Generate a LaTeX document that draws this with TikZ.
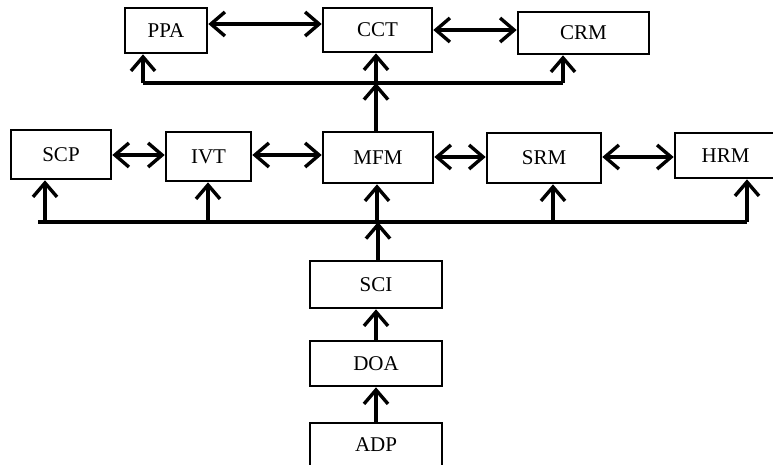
\documentclass[tikz,border=0pt]{standalone}
\usepackage{fontspec}
\setmainfont{Liberation Serif}
\usetikzlibrary{arrows.meta}
\begin{document}
\begin{tikzpicture}[x=1pt,y=1pt,
  blk/.style={draw, line width=2.6pt, rectangle, inner sep=0pt, font=\fontsize{21}{25}\selectfont},
  conn/.style={line width=3.4pt},
  barb/.tip={Straight Barb[length=14pt,width=24pt,line width=3.4pt]},
  tipped/.style={conn, -barb},
  dbl/.style={conn, barb-barb}]
\useasboundingbox (0,0) rectangle (773,-464);
% nodes
\node[blk, minimum width=82pt, minimum height=45pt] (PPA) at (166,-30.5) {PPA};
\node[blk, minimum width=109pt, minimum height=44pt] (CCT) at (377.5,-30) {CCT};
\node[blk, minimum width=131pt, minimum height=42pt] (CRM) at (583.5,-33) {CRM};
\node[blk, minimum width=100pt, minimum height=49pt] (SCP) at (61,-154.5) {SCP};
\node[blk, minimum width=85pt, minimum height=49pt] (IVT) at (208.5,-156.5) {IVT};
\node[blk, minimum width=110pt, minimum height=51pt] (MFM) at (378,-157.5) {MFM};
\node[blk, minimum width=114pt, minimum height=50pt] (SRM) at (544,-158) {SRM};
\node[blk, minimum width=101pt, minimum height=45pt] (HRM) at (725.5,-155.5) {HRM};
\node[blk, minimum width=132pt, minimum height=47pt] (SCI) at (376,-284.5) {SCI};
\node[blk, minimum width=132pt, minimum height=45pt] (DOA) at (376,-363.5) {DOA};
\node[blk, minimum width=132pt, minimum height=44pt] (ADP) at (376,-445) {ADP};
% bus points
\coordinate (tbL) at (143,-83);
\coordinate (tbR) at (563,-83);
\coordinate (tbM) at (376,-83);
\coordinate (bbL) at (38,-222);
\coordinate (bbR) at (747,-222);
\coordinate (bbM) at (378,-222);
% top row double arrows
\draw[dbl] (PPA.east |- 0,-24) -- (CCT.west |- 0,-24);
\draw[dbl] (CCT.east |- 0,-30) -- (CRM.west |- 0,-30);
% top bus
\draw[conn] (tbL) -- (tbR);
\draw[tipped] (tbL) -- (tbL |- PPA.south);
\draw[tipped] (tbR) -- (tbR |- CRM.south);
\draw[tipped] (tbM |- MFM.north) -- (tbM);
\draw[tipped] (tbM) -- (tbM |- CCT.south);
% middle row double arrows
\draw[dbl] (SCP.east |- 0,-155) -- (IVT.west |- 0,-155);
\draw[dbl] (IVT.east |- 0,-155) -- (MFM.west |- 0,-155);
\draw[dbl] (MFM.east |- 0,-157) -- (SRM.west |- 0,-157);
\draw[dbl] (SRM.east |- 0,-157) -- (HRM.west |- 0,-157);
% bottom bus
\draw[conn] (bbL) -- (bbR);
\draw[tipped] (45,-222) -- (45,-222 |- SCP.south);
\draw[tipped] (208,-222) -- (208,-222 |- IVT.south);
\draw[tipped] (377,-222) -- (377,-222 |- MFM.south);
\draw[tipped] (553,-222) -- (553,-222 |- SRM.south);
\draw[tipped] (bbR) -- (bbR |- HRM.south);
\draw[tipped] (bbM |- SCI.north) -- (bbM);
% chain
\draw[tipped] (DOA.north) -- (SCI.south);
\draw[tipped] (ADP.north) -- (DOA.south);
\end{tikzpicture}
\end{document}
